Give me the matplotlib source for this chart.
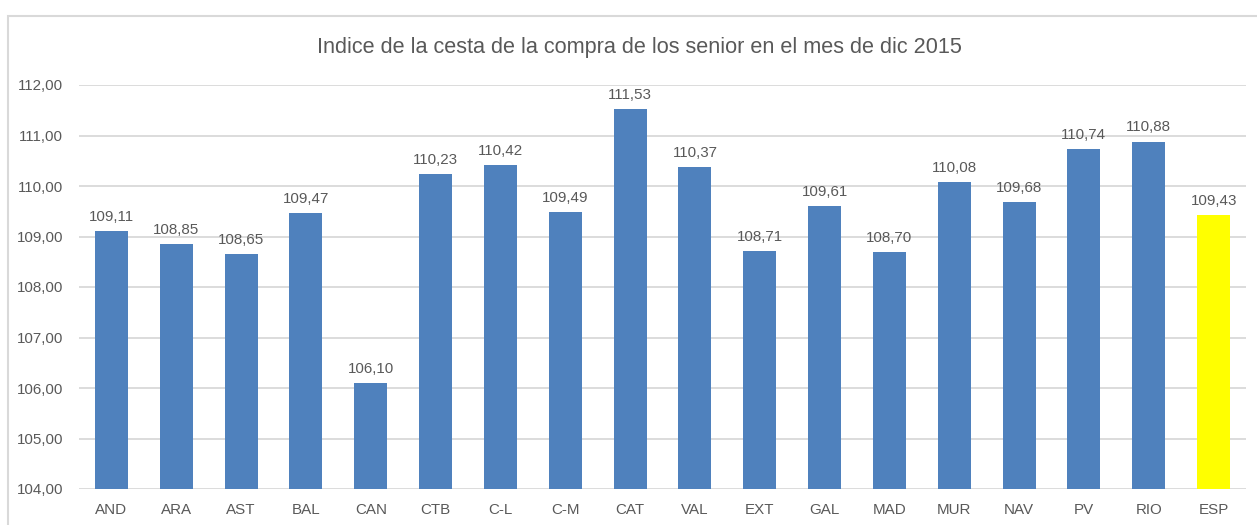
import matplotlib
matplotlib.use("Agg")
import matplotlib.pyplot as plt
from matplotlib import font_manager
from matplotlib.patches import Rectangle

regions = ["AND", "ARA", "AST", "BAL", "CAN", "CTB", "C-L", "C-M", "CAT",
           "VAL", "EXT", "GAL", "MAD", "MUR", "NAV", "PV", "RIO", "ESP"]
index_values = [109.11, 108.85, 108.65, 109.47, 106.10, 110.23, 110.42, 109.49,
                111.53, 110.37, 108.71, 109.61, 108.70, 110.08, 109.68, 110.74,
                110.88, 109.43]
y_ticks = [104, 105, 106, 107, 108, 109, 110, 111, 112]
title_text = "Indice de la cesta de la compra de los senior en el mes de dic 2015"

available = {f.name for f in font_manager.fontManager.ttflist}
narrow = "Liberation Sans Narrow" in available
family = "Liberation Sans Narrow" if narrow else "Liberation Sans"
plt.rcParams["font.family"] = [family, "DejaVu Sans"]
k = 1.0 if narrow else 0.84
label_size = 13 * k
title_size = 18.5 * k

text_color = "#595959"
bar_blue = "#4F81BD"
bar_yellow = "#FFFF00"
grid_color = "#D9D9D9"

fig = plt.figure(figsize=(12.57, 5.25), dpi=100)
W, H = 1257, 525

# chart frame
fig.patches.append(Rectangle((8 / W, -0.1), 1.2, (H - 16) / H + 0.1,
                             transform=fig.transFigure, fill=False,
                             edgecolor=grid_color, linewidth=1.5))

ax = fig.add_axes([79 / W, (H - 489) / H, (1246 - 79) / W, (489 - 85) / H])
x = range(len(regions))
colors = [bar_yellow if r == "ESP" else bar_blue for r in regions]
ax.bar(x, [v - 104 for v in index_values], bottom=104, width=0.51,
       color=colors, zorder=3)

for xi, v in zip(x, index_values):
    ax.text(xi, v + 0.14, f"{v:.2f}".replace(".", ","), ha="center", va="bottom",
            fontsize=label_size, color=text_color)

ax.set_xlim(-0.5, len(regions) - 0.5)
ax.set_ylim(104, 112)
ax.set_yticks(y_ticks)
ax.set_yticklabels([f"{t:.2f}".replace(".", ",") for t in y_ticks])
ax.set_xticks(list(x))
ax.set_xticklabels(regions)
ax.tick_params(axis="both", length=0, labelsize=label_size, labelcolor=text_color)
ax.tick_params(axis="y", pad=11.5)
ax.tick_params(axis="x", pad=10)
ax.yaxis.grid(True, color=grid_color, linewidth=1.3, zorder=0)
for s in ax.spines.values():
    s.set_visible(False)

fig.text(639 / W, (H - 47) / H, title_text, ha="center", va="center",
         fontsize=title_size, color=text_color)

fig.savefig("out.png", dpi=100)
